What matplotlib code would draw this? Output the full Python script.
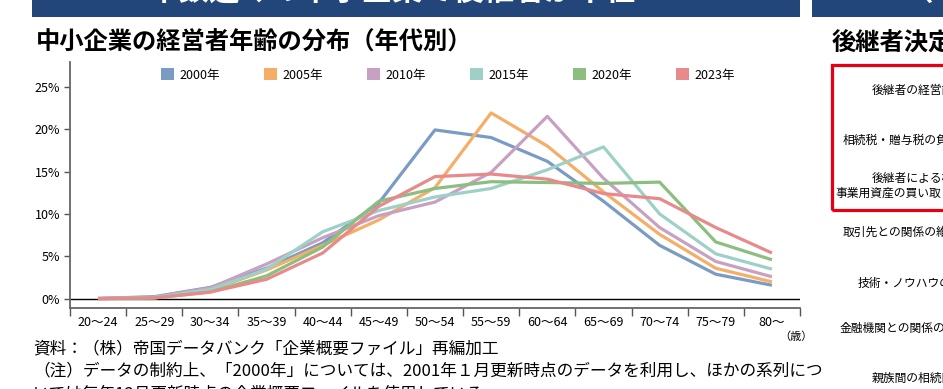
import numpy as np
import matplotlib
matplotlib.use('Agg')
import matplotlib.pyplot as plt
from matplotlib.patches import Patch, Rectangle

plt.rcParams['font.family'] = ['Noto Sans CJK JP', 'DejaVu Sans']

W, H = 943, 389

ages = ['20～24', '25～29', '30～34', '35～39', '40～44', '45～49', '50～54',
        '55～59', '60～64', '65～69', '70～74', '75～79', '80～']
years = ['2000年', '2005年', '2010年', '2015年', '2020年', '2023年']
v2000 = [0.05, 0.25, 1.35, 3.6, 6.6, 11.3, 19.9, 19.0, 16.2, 11.5, 6.3, 2.9, 1.6]
v2005 = [0.03, 0.15, 1.0, 3.4, 6.3, 9.3, 13.1, 21.9, 18.0, 12.6, 7.6, 3.6, 2.0]
v2010 = [0.05, 0.2, 1.3, 4.1, 7.2, 9.8, 11.4, 14.9, 21.5, 14.2, 8.4, 4.4, 2.6]
v2015 = [0.03, 0.15, 1.1, 3.5, 7.9, 10.4, 12.0, 13.0, 15.2, 17.9, 10.0, 5.3, 3.5]
v2020 = [0.02, 0.1, 0.8, 2.7, 6.1, 11.5, 13.0, 13.8, 13.7, 13.6, 13.75, 6.7, 4.6]
v2023 = [0.02, 0.1, 0.8, 2.3, 5.4, 10.9, 14.4, 14.7, 14.1, 12.4, 11.8, 8.4, 5.4]
series = [v2000, v2005, v2010, v2015, v2020, v2023]
colors = ['#7A9BC4', '#F4AE68', '#C7A0C2', '#9ED0C8', '#8BBE7F', '#E88A8C']

right_items = ['後継者の経営能力', '相続税・贈与税の負担', '後継者による株式・',
               '事業用資産の買い取り', '取引先との関係の維持', '技術・ノウハウの承継',
               '金融機関との関係の維持', '親族間の相続問題']


def fx(px):
    return px / W


def fy(py):
    return 1 - py / H


fig = plt.figure(figsize=(W / 100, H / 100), dpi=100)

# header bars (text mostly above the crop)
fig.add_artist(Rectangle((fx(32), fy(17)), fx(800 - 32), 17 / H, transform=fig.transFigure,
                         fc='#22467A', ec='none'))
fig.add_artist(Rectangle((fx(812), fy(17)), fx(140), 17 / H, transform=fig.transFigure,
                         fc='#22467A', ec='none'))
fig.text(fx(393), fy(-9), '半数近くの中小企業で後継者が不在', color='white', fontsize=22,
         fontweight='bold', ha='center', va='center')
fig.text(fx(918), fy(-9), '（', color='white', fontsize=22, fontweight='bold',
         ha='center', va='center')

# titles
fig.text(fx(36), fy(43), '中小企業の経営者年齢の分布（年代別）', fontsize=17.5,
         fontweight='bold', ha='left', va='center')
fig.text(fx(832), fy(43), '後継者決定時の課題', fontsize=17.5, fontweight='bold',
         ha='left', va='center')

# chart
ax = fig.add_axes([fx(70), fy(308), fx(800 - 70), (308 - 62) / H])
x = np.arange(len(ages))
for vals, c, lab in zip(series, colors, years):
    ax.plot(x, vals, color=c, lw=2.3, label=lab, solid_capstyle='butt')
ax.axhline(0, color='black', lw=1.0, zorder=1)
ax.set_xlim(-0.5, len(ages) - 0.5)
ax.set_ylim(-1.08, 27.9)
ax.set_yticks([0, 5, 10, 15, 20, 25])
ax.set_yticklabels(['0%', '5%', '10%', '15%', '20%', '25%'], fontsize=9)
ax.set_xticks(x)
ax.set_xticklabels(ages, fontsize=9)
ax.set_xticks(np.arange(-0.5, len(ages), 1), minor=True)
ax.tick_params(axis='x', which='major', length=0, pad=6)
ax.tick_params(axis='x', which='minor', length=6, width=1, color='#555555')
ax.tick_params(axis='y', length=4, width=1, color='#555555', pad=3)
for s in ['top', 'right']:
    ax.spines[s].set_visible(False)
ax.spines['left'].set_color('#666666')
ax.spines['bottom'].set_color('#666666')
ax.spines['left'].set_linewidth(1.3)
ax.spines['bottom'].set_linewidth(1.3)

handles = [Patch(facecolor=c, edgecolor='none', label=lab) for c, lab in zip(colors, years)]
fig.legend(handles=handles, ncol=6, loc='center', bbox_to_anchor=(fx(448), fy(75)),
           frameon=False, fontsize=9, handlelength=1.1, handleheight=1.1,
           handletextpad=0.45, columnspacing=3.45)

fig.text(fx(796), fy(337), '（歳）', fontsize=8, ha='center', va='center')

# notes
fig.text(fx(33), fy(349), '資料：（株）帝国データバンク「企業概要ファイル」再編加工',
         fontsize=12, ha='left', va='center')
fig.text(fx(33), fy(371), '（注）データの制約上、「2000年」については、2001年１月更新時点のデータを利用し、ほかの系列につ',
         fontsize=12, ha='left', va='center')
fig.text(fx(33), fy(394), 'いては毎年12月更新時点の企業概要ファイルを使用している。',
         fontsize=12, ha='left', va='center')

# right panel
fig.add_artist(Rectangle((fx(832), fy(210)), fx(200), (210 - 65) / H, transform=fig.transFigure,
                         fill=False, ec='#E60012', lw=2.3))
rx = [872, 843, 872, 835, 843, 858, 840, 872]
ry = [90, 140, 178, 193, 232, 283, 328, 378]
for t, px, py in zip(right_items, rx, ry):
    fig.text(fx(px), fy(py), t, fontsize=8.5, ha='left', va='center')

fig.savefig('out.png', dpi=100)
